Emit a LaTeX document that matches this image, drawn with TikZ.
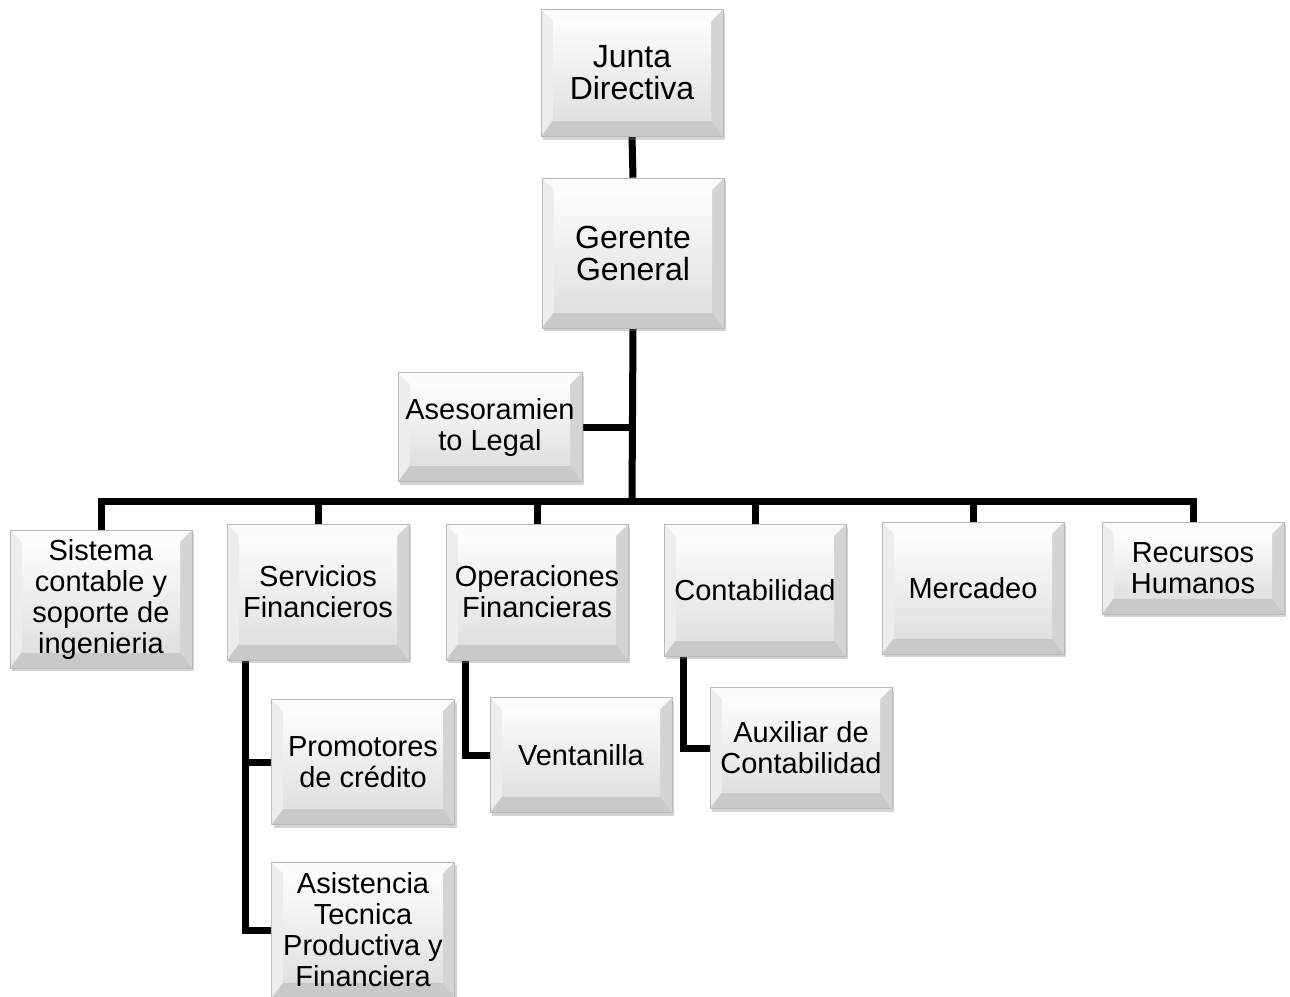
\documentclass[tikz,border=0pt]{standalone}
\usepackage{fontspec}
\setmainfont{Liberation Sans}
\usetikzlibrary{shadows,backgrounds}
\tikzset{
  linea/.style={black, line width=7pt},
  grande/.style={font=\fontsize{32}{32}\selectfont},
  caja/.style={rectangle, minimum width=182pt, inner sep=0pt, align=center,
    font=\fontsize{29}{31}\selectfont, fill=white, draw=gray!55, line width=0.6pt,
    drop shadow={shadow xshift=2pt, shadow yshift=-3pt, opacity=0.35},
    path picture={
      \path (path picture bounding box.north west) coordinate (pa)
            (path picture bounding box.north east) coordinate (pb)
            (path picture bounding box.south east) coordinate (pc)
            (path picture bounding box.south west) coordinate (pd)
            ([shift={(12pt,-12pt)}]pa) coordinate (qa)
            ([shift={(-12pt,-12pt)}]pb) coordinate (qb)
            ([shift={(-12pt,16pt)}]pc) coordinate (qc)
            ([shift={(12pt,16pt)}]pd) coordinate (qd);
      \fill[gray!3]  (pa) -- (pb) -- (qb) -- (qa) -- cycle;
      \fill[gray!14] (pa) -- (qa) -- (qd) -- (pd) -- cycle;
      \fill[gray!34] (pb) -- (pc) -- (qc) -- (qb) -- cycle;
      \fill[gray!42] (pd) -- (qd) -- (qc) -- (pc) -- cycle;
      \shade[top color=gray!2, bottom color=gray!24] (qa) rectangle (qc);
    }}
}

\begin{document}
\begin{tikzpicture}[x=1pt,y=-1pt]
  \useasboundingbox (0,0) rectangle (1290,996);
  \node[caja, grande, minimum height=127pt] (junta)    at (632,73)  {Junta\\Directiva};
  \node[caja, grande, minimum height=150pt] (gerente)  at (633,253) {Gerente\\General};
  \node[caja, minimum width=184pt, minimum height=109pt] (asesor) at (490,427) {Asesoramien\\to Legal};
  \coordinate (barra) at (632,501);

  \node[caja, minimum height=138pt] (sistema)      at (101,599)  {Sistema\\contable  y\\soporte de\\ingenieria};
  \node[caja, minimum height=136pt] (servicios)    at (318,592)  {Servicios\\Financieros};
  \node[caja, minimum height=136pt] (operaciones)  at (537,592)  {Operaciones\\Financieras};
  \node[caja, minimum height=132pt] (contabilidad) at (755,590)  {Contabilidad};
  \node[caja, minimum height=132pt] (mercadeo)     at (973,588)  {Mercadeo};
  \node[caja, minimum height=92pt]  (recursos)     at (1193,568) {Recursos\\Humanos};

  \node[caja, minimum width=183pt, minimum height=125pt] (promotores) at (363,762) {Promotores\\de crédito};
  \node[caja, minimum width=183pt, minimum height=136pt] (asistencia) at (363,930) {Asistencia\\Tecnica\\Productiva y\\Financiera};
  \node[caja, minimum height=115pt] (ventanilla) at (581,755) {Ventanilla};
  \node[caja, minimum height=121pt] (auxiliar)   at (801,748) {Auxiliar de\\Contabilidad};

  \begin{scope}[on background layer]
    \draw[linea] (junta.south) -- (gerente.north);
    \draw[linea] (gerente.south) -- (barra);
    \draw[linea] (asesor.east) -- (asesor.east -| barra);
    \draw[linea, line cap=rect] (sistema.north) |- (barra) -| (recursos.north);
    \foreach \n in {servicios,operaciones,contabilidad,mercadeo}
      \draw[linea] (\n.north) -- (\n.north |- barra);
    \draw[linea] ([xshift=-73pt]servicios.south) |- (promotores.west);
    \draw[linea] ([xshift=-73pt]servicios.south) |- (asistencia.west);
    \draw[linea] ([xshift=-72pt]operaciones.south) |- (ventanilla.west);
    \draw[linea] ([xshift=-72pt]contabilidad.south) |- (auxiliar.west);
  \end{scope}
\end{tikzpicture}
\end{document}
